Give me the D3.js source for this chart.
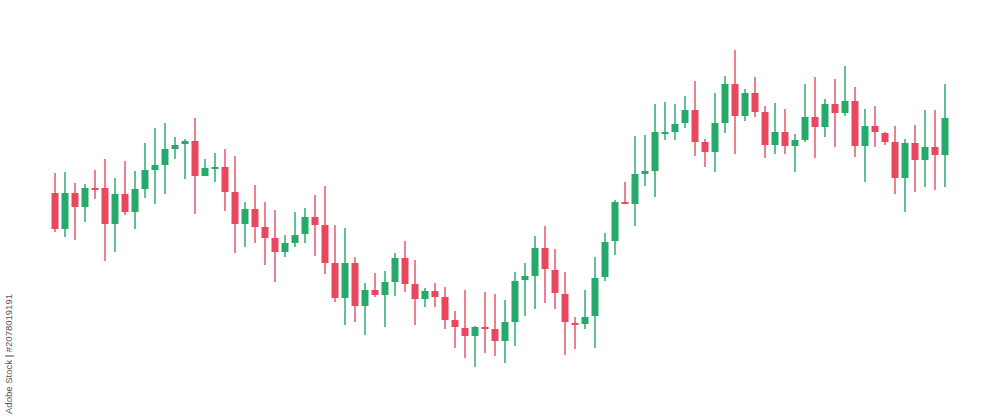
<!DOCTYPE html>
<html>
<head>
<meta charset="utf-8">
<script src="https://cdn.jsdelivr.net/npm/d3@7"></script>
<style>
  html, body { margin: 0; padding: 0; background: #ffffff; }
  svg { display: block; }
</style>
</head>
<body>
<svg id="chart" width="1000" height="417"></svg>
<script>
// ---- Data (price units) ----
const periods = d3.range(1, 91);
const open  = [224,188,224,210,229,229,193,223,205,228, 247,252,268,273,276,241,249,250,225,193,
               208,190,179,165,174,183,200,192,154,119, 154,111,127,122,135,159,133,118,126,120,
               97,89,81,90,88,76,95,137,141,169, 147,123,94,93,101,140,176,215,213,243,
               246,284,285,294,307,275,265,294,333,301, 324,305,272,285,271,277,300,290,313,304,
               316,271,291,284,275,239,274,257,270,262];
const close = [188,224,210,229,228,193,223,205,228,247, 252,268,272,276,241,249,250,225,193,208,
               190,179,165,174,182,200,192,154,119,154, 111,127,122,135,159,133,118,126,120,97,
               90,81,90,88,76,95,136,141,169,148, 124,95,93,100,139,175,215,213,243,246,
               285,285,293,307,275,265,294,333,301,324, 305,272,285,271,277,300,290,313,304,316,
               271,291,285,275,239,274,257,270,262,299];
const high  = [244,245,234,233,247,258,239,256,246,274, 289,294,280,278,299,258,264,268,261,215,
               232,215,207,182,205,209,222,231,192,189, 160,134,144,146,164,176,157,129,134,130,
               106,127,91,125,123,117,145,154,181,191, 168,145,100,127,160,184,217,235,281,282,
               313,315,313,321,336,278,324,341,367,328, 340,311,314,308,283,333,340,318,338,351,
               330,308,311,285,291,278,292,307,307,333];
const low   = [185,180,177,195,218,156,165,202,188,219, 213,223,258,238,203,241,235,206,164,170,
               174,152,135,160,170,174,161,143,115,92, 95,82,120,90,121,125,92,110,110,88,
               69,59,50,64,61,54,71,101,108,114, 108,62,68,88,69,136,162,213,191,231,
               220,277,277,289,261,250,245,284,263,296, 300,259,263,263,245,275,259,280,270,301,
               260,235,270,272,223,205,225,230,227,230];
const stockId = "Adobe Stock | #2078019191";

const candles = periods.map((p, i) => ({
  p, o: open[i], c: close[i], h: high[i], l: low[i]
}));

// ---- Layout ----
const svg = d3.select("#chart");

const x = d3.scaleBand().domain(periods).range([50, 950]).paddingInner(0.3).paddingOuter(0.15);
const y = d3.scaleLinear().domain([0, 417]).range([417, 0]);

const colors = {
  upBody: "#26a96b", upWick: "#62c195",
  downBody: "#e8475e", downWick: "#f0808f"
};

const g = svg.append("g");

const cg = g.selectAll("g.candle").data(candles).join("g").attr("class", "candle");

cg.append("line")
  .attr("x1", d => x(d.p) + x.bandwidth() / 2)
  .attr("x2", d => x(d.p) + x.bandwidth() / 2)
  .attr("y1", d => y(d.h))
  .attr("y2", d => y(d.l))
  .attr("stroke", d => d.c >= d.o ? colors.upWick : colors.downWick)
  .attr("stroke-width", 2);

cg.append("rect")
  .attr("x", d => x(d.p))
  .attr("width", x.bandwidth())
  .attr("y", d => y(Math.max(d.o, d.c)))
  .attr("height", d => Math.max(2, Math.abs(y(d.o) - y(d.c))))
  .attr("fill", d => d.c >= d.o ? colors.upBody : colors.downBody);

// Vertical stock id text on the left edge
svg.append("text")
  .attr("transform", "translate(11.5,414) rotate(-90)")
  .attr("text-anchor", "start")
  .attr("font-family", "Liberation Sans Narrow, Liberation Sans, Arial, sans-serif")
  .attr("font-size", 9.5)
  .attr("textLength", 120)
  .attr("lengthAdjust", "spacingAndGlyphs")
  .attr("fill", "#555")
  .text(stockId);
</script>
</body>
</html>
